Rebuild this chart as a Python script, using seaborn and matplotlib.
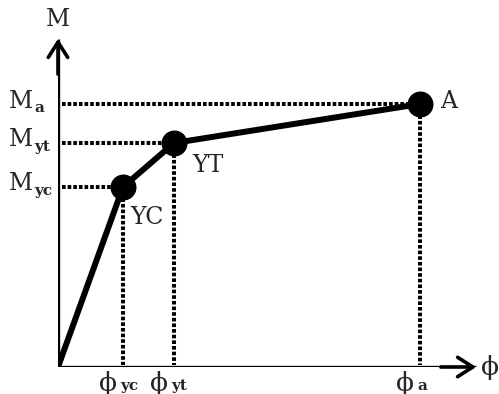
import matplotlib
matplotlib.use("Agg")
import matplotlib.pyplot as plt
import seaborn as sns
import pandas as pd

sns.set_theme(style="white")
plt.rcParams['font.family'] = ['DejaVu Serif', 'Liberation Serif']

# data (curvature phi, moment M) in arbitrary units
points = ["O", "YC", "YT", "A"]
phi = [0, 65, 116, 362]
moment = [0, 180, 224, 263]
y_labels = ["a", "yt", "yc"]
x_labels = ["yc", "yt", "a"]

df = pd.DataFrame({"phi": phi, "M": moment, "pt": points})

fig = plt.figure(figsize=(4.99, 3.94), dpi=100)
ax = fig.add_axes([58/499, 27/394, 441/499, 367/394])

# dotted guides
dot = dict(color="black", lw=2.9, linestyle=(0, (0.9, 0.5)), zorder=2)
for x, y in zip(phi[1:], moment[1:]):
    ax.plot([4, x], [y, y], **dot)
    ax.plot([x, x], [y, 2], **dot)

# curve and points
sns.lineplot(data=df, x="phi", y="M", color="black", lw=4.3, ax=ax,
             sort=False, zorder=4)
sns.scatterplot(data=df.iloc[1:], x="phi", y="M", color="black", s=300,
                edgecolor="black", ax=ax, zorder=5)
ax.set_xlim(0, 441)
ax.set_ylim(0, 367)
ax.axis("off")

# axes arrows
ax.plot([0, 418], [0, 0], color="black", lw=2.4, solid_capstyle="butt", zorder=3)
ax.plot([0, 0], [0, 328], color="black", lw=2.4, solid_capstyle="butt", zorder=3)
ax.annotate("", xy=(421, 0), xytext=(380, 0),
            arrowprops=dict(arrowstyle="->,head_length=0.55,head_width=0.35",
                            lw=2.6, color="black", mutation_scale=20), zorder=3)
ax.annotate("", xy=(0, 331), xytext=(0, 290),
            arrowprops=dict(arrowstyle="->,head_length=0.55,head_width=0.35",
                            lw=2.6, color="black", mutation_scale=20), zorder=3)

fs = 17
# axis labels
ax.text(0, 347, "M", fontsize=fs, ha="center", va="center")
ax.text(432, 0, "ϕ", fontsize=19, ha="center", va="center")

# y labels
for y, sub in zip([moment[3], moment[2], moment[1]], y_labels):
    ax.text(-49, y + 3, "M", fontsize=fs, ha="left", va="center")
    ax.text(-24, y - 4, sub, fontsize=11, ha="left", va="center", fontweight="bold")

# x labels
for x, sub in zip([phi[1], phi[2], phi[3]], x_labels):
    ax.text(x - 15, -16, "ϕ", fontsize=19, ha="center", va="center")
    ax.text(x - 3, -19, sub, fontsize=11, ha="left", va="center", fontweight="bold")

# point labels
ax.text(phi[1] + 7, moment[1] - 31, "YC", fontsize=fs, ha="left", va="center")
ax.text(phi[2] + 18, moment[2] - 22, "YT", fontsize=fs, ha="left", va="center")
ax.text(phi[3] + 20, moment[3] + 2, "A", fontsize=fs, ha="left", va="center")

fig.savefig("out.png", dpi=100, facecolor="white")
